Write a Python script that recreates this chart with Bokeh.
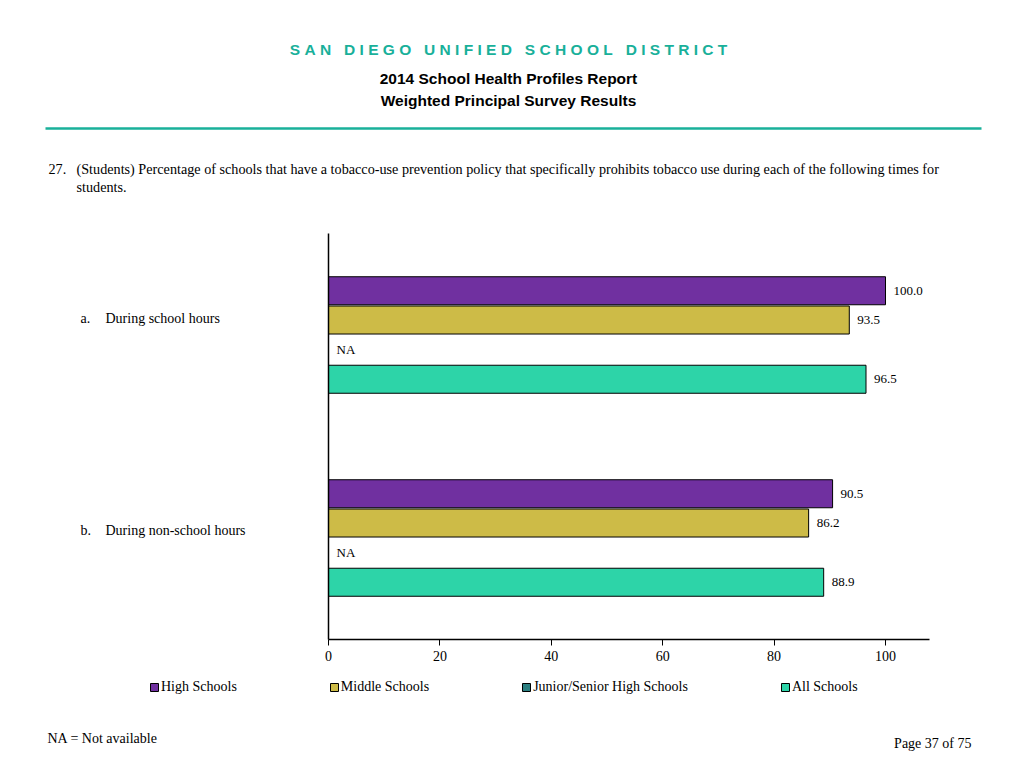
from bokeh.plotting import figure
from bokeh.models import (ColumnDataSource, Legend, LegendItem, Range1d, FixedTicker)
from bokeh.embed import file_html
from bokeh.resources import INLINE
from bokeh.core.properties import value

# ---------------- data ----------------
categories = ["a.", "b."]
category_labels = ["During school hours", "During non-school hours"]
series_names = ["High Schools", "Middle Schools", "Junior/Senior High Schools", "All Schools"]
high_schools = [100.0, 90.5]
middle_schools = [93.5, 86.2]
junior_senior_high = [None, None]   # NA = Not available
all_schools = [96.5, 88.9]
x_ticks = [0, 20, 40, 60, 80, 100]

series_values = [high_schools, middle_schools, junior_senior_high, all_schools]
colors = ["#7030a0", "#cdbb47", "#2b7f80", "#2dd4a8"]

SERIF = "Liberation Serif"
SANS = "Liberation Sans"
W, H = 1008, 752

# layout geometry (pixels): value 0 at x=328, value 100 at x=885; group rows 203px tall
X0_PX, PX_PER_UNIT = 328, 5.57
Y0_PX, PX_PER_GROUP = 639, 203
x_lo = -X0_PX / PX_PER_UNIT
x_hi = (W - X0_PX) / PX_PER_UNIT
y_lo = -(H - Y0_PX) / PX_PER_GROUP
y_hi = Y0_PX / PX_PER_GROUP
X_MAX = 107.9

def px2x(px):
    return x_lo + px / PX_PER_UNIT

def px2y(py):
    return y_hi - py / PX_PER_GROUP

p = figure(width=W, height=H, output_backend="svg", toolbar_location=None,
           x_range=Range1d(x_lo, x_hi), y_range=Range1d(y_lo, y_hi),
           min_border=0, min_border_left=0, min_border_right=0,
           min_border_top=0, min_border_bottom=0)
p.outline_line_color = None
p.xgrid.visible = False
p.ygrid.visible = False

n_cat = len(categories)
group_centers = [n_cat - i - 0.5 for i in range(n_cat)]

# x axis
p.xaxis.fixed_location = 0
p.xaxis.bounds = (0, X_MAX)
p.xaxis.ticker = FixedTicker(ticks=x_ticks)
p.xaxis.major_tick_out = 6
p.xaxis.major_tick_in = 0
p.xaxis.minor_tick_line_color = None
p.xaxis.axis_line_color = "black"
p.xaxis.axis_line_width = 1.5
p.xaxis.major_tick_line_color = "black"
p.xaxis.major_label_text_font = SERIF
p.xaxis.major_label_text_font_size = "14px"
p.xaxis.major_label_text_color = "black"
p.xaxis.major_label_standoff = 5

# y axis (line only)
p.yaxis.fixed_location = 0
p.yaxis.bounds = (0, n_cat)
p.yaxis.ticker = FixedTicker(ticks=[])
p.yaxis.minor_tick_line_color = None
p.yaxis.major_tick_line_color = None
p.yaxis.axis_line_color = "black"
p.yaxis.axis_line_width = 1.5

offsets = [0.218, 0.0738, -0.0738, -0.218]
bar_h = 0.138
renderers = []
for name, vals, col, off in zip(series_names, series_values, colors, offsets):
    v = [float("nan") if x is None else x for x in vals]
    src = ColumnDataSource(dict(
        y=[g + off for g in group_centers],
        val=v,
        lx=[0.0 if x is None else x for x in vals],
        txt=["NA" if x is None else f"{x:.1f}" for x in vals],
    ))
    r = p.hbar(y="y", left=0, right="val", height=bar_h,
               fill_color=col, line_color="black", line_width=1, source=src)
    p.text(x="lx", y="y", text="txt", source=src,
           x_offset=8, text_baseline="middle", text_align="left",
           text_font=value(SERIF), text_font_size="13px", text_color="black")
    renderers.append(r)

legend = Legend(items=[LegendItem(label=n, renderers=[r]) for n, r in zip(series_names, renderers)],
                orientation="horizontal", location=(149, 57), spacing=92,
                glyph_width=10, glyph_height=10, label_standoff=2, label_height=10,
                padding=0, margin=0, border_line_color=None, background_fill_alpha=0,
                label_text_font=SERIF, label_text_font_size="14px", label_text_color="black")
p.add_layout(legend)

def lab(text, x, y, font=SERIF, size="14px", color="black", align="left", style="normal"):
    p.text(x=[px2x(x)], y=[px2y(y)], text=[text], text_font=value(font),
           text_font_size=size, text_color=color, text_align=align,
           text_baseline="middle", text_font_style=style)

teal = "#19b09a"
NB = "\u00a0"
district = "SAN DIEGO UNIFIED SCHOOL DISTRICT"
spaced_title = (NB * 3).join(NB.join(word) for word in district.split(" "))
lab(spaced_title, 508, 49, font=SANS, size="15.5px", color=teal, align="center", style="bold")
lab("2014 School Health Profiles Report", 508, 78, font=SANS, size="15.5px", align="center", style="bold")
lab("Weighted Principal Survey Results", 508, 100, font=SANS, size="15.5px", align="center", style="bold")
p.segment(x0=[px2x(45)], x1=[px2x(981)], y0=[px2y(128)], y1=[px2y(128)],
          line_color=teal, line_width=2.5)

lab("27.", 48, 168, size="14.2px")
lab("(Students) Percentage of schools that have a tobacco-use prevention policy that specifically "
    "prohibits tobacco use during each of the following times for", 76, 168, size="14.2px")
lab("students.", 76, 186, size="14.2px")

for letter, text, y in zip(categories, category_labels, [318, 530]):
    lab(letter, 80, y)
    lab(text, 105, y)

lab("NA = Not available", 47, 738)
lab("Page 37 of 75", 971, 743, align="right")

open("out.html", "w").write(file_html(p, INLINE))
